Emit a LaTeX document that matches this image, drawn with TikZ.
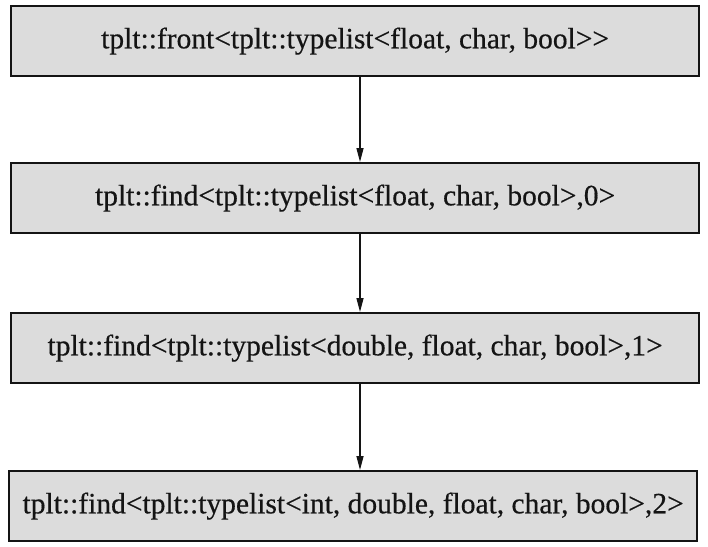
\documentclass[tikz,border=0pt]{standalone}
\usepackage{fontspec}
\setmainfont{Liberation Serif}
\newfontfamily\boxfont{Liberation Serif}[UprightFeatures={FakeBold=0.5}]
\usetikzlibrary{arrows.meta}
\definecolor{boxfill}{HTML}{DCDCDC}
\definecolor{ink}{HTML}{141414}
\tikzset{
  callbox/.style={draw=ink, line width=2.2pt, fill=boxfill, minimum width=688pt, minimum height=70pt, inner sep=0pt, font=\boxfont\fontsize{29.5}{32}\selectfont, text=ink, anchor=north west},
  flow/.style={draw=ink, line width=1.4pt, -{Triangle[length=14pt,width=7pt]}}
}
\begin{document}
\begin{tikzpicture}[x=1pt,y=-1pt]
\useasboundingbox (0,0) rectangle (708,546);
\fill[white] (0,0) rectangle (708,546);
\node[callbox] (b1) at (10,5) {tplt::front<tplt::typelist<float, char, bool>{}>};
\node[callbox] (b2) at (10,162) {tplt::find<tplt::typelist<float, char, bool>,0>};
\node[callbox] (b3) at (10,312) {tplt::find<tplt::typelist<double, float, char, bool>,1>};
\node[callbox] (b4) at (8,470) {tplt::find<tplt::typelist<int, double, float, char, bool>,2>};
\draw[flow] (b1.south -| 360,0) -- (b2.north -| 360,0);
\draw[flow] (b2.south -| 360,0) -- (b3.north -| 360,0);
\draw[flow] (b3.south -| 360,0) -- (b4.north -| 360,0);
\end{tikzpicture}
\end{document}
